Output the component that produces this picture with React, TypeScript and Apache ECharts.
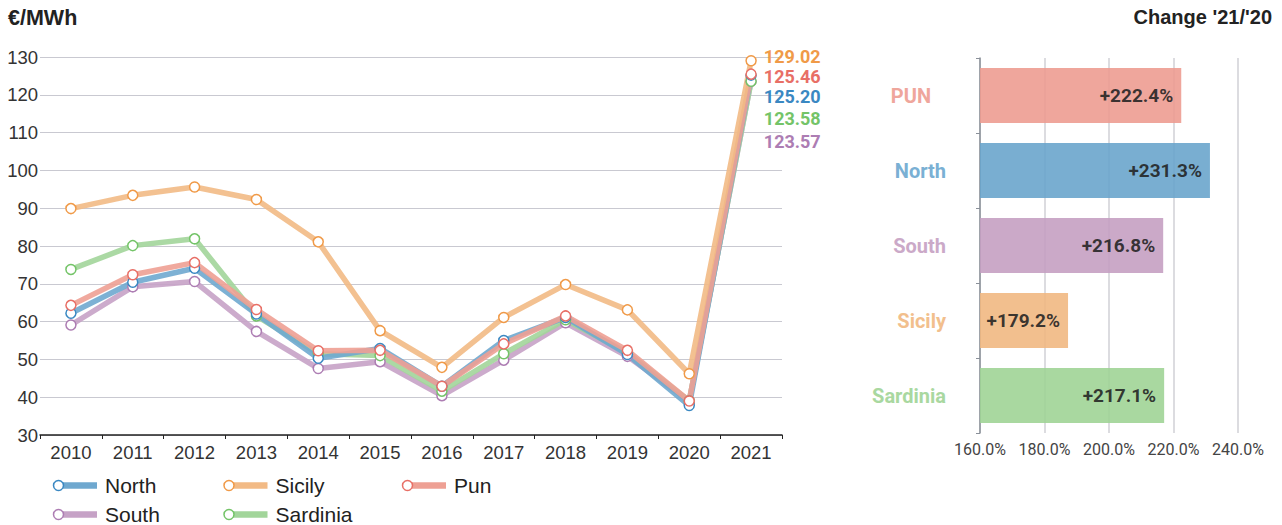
import React, { useEffect, useRef } from 'react';
import * as echarts from 'echarts';

const years = ['2010', '2011', '2012', '2013', '2014', '2015', '2016', '2017', '2018', '2019', '2020', '2021'];
const north = [62.2, 70.4, 74.1, 62.0, 50.3, 52.9, 42.9, 55.0, 61.1, 51.3, 37.8, 125.2];
const sicily = [89.9, 93.4, 95.6, 92.3, 81.1, 57.6, 47.9, 61.1, 69.8, 63.1, 46.2, 129.02];
const pun = [64.3, 72.4, 75.6, 63.2, 52.3, 52.4, 42.9, 54.1, 61.5, 52.4, 39.0, 125.46];
const south = [59.1, 69.2, 70.6, 57.4, 47.6, 49.4, 40.4, 49.8, 59.7, 50.8, 39.0, 123.57];
const sardinia = [73.8, 80.1, 81.9, 61.5, 51.5, 51.0, 41.6, 51.5, 60.5, 51.8, 39.0, 123.58];

const yTicks = { min: 30, max: 130, interval: 10 };

const changeCats = ['PUN', 'North', 'South', 'Sicily', 'Sardinia'];
// bar lengths as drawn in the picture, and the labels printed on them
const changeBars = [222.4, 231.3, 216.8, 187.3, 217.1];
const changeLabels = ['+222.4%', '+231.3%', '+216.8%', '+179.2%', '+217.1%'];
const changeTicks = { min: 160, max: 240, interval: 20 };

const COL = {
  North: { line: '#6fa8cf', mark: '#3a88c2', bar: '#66a3cb', text: '#7ab0d4' },
  Sicily: { line: '#f2ba85', mark: '#f09a48', bar: '#f0b67e', text: '#f2bf8d' },
  Pun: { line: '#eea094', mark: '#e86f66', bar: '#ed9a8e', text: '#efa69c' },
  South: { line: '#c6a2c6', mark: '#ad7db3', bar: '#c49dc0', text: '#cba9c8' },
  Sardinia: { line: '#a2d59a', mark: '#74c468', bar: '#9dd393', text: '#a9d8a0' },
};

const catColorKey = ['Pun', 'North', 'South', 'Sicily', 'Sardinia'];

export default function App() {
  const ref = useRef<HTMLDivElement>(null);
  useEffect(() => {
    if (!ref.current) return;
    const chart = echarts.init(ref.current, null, { renderer: 'svg' });

    const defs = [
      { name: 'South', data: south, dy: 60 },
      { name: 'Sardinia', data: sardinia, dy: 37 },
      { name: 'North', data: north, dy: 21 },
      { name: 'Pun', data: pun, dy: 2 },
      { name: 'Sicily', data: sicily, dy: -4 },
    ];
    const last = years.length - 1;
    const lineSeries = defs.map((d) => {
      const c = (COL as any)[d.name];
      return {
        type: 'line',
        name: d.name,
        data: d.data,
        xAxisIndex: 0,
        yAxisIndex: 0,
        symbol: 'circle',
        symbolSize: 10,
        showAllSymbol: true,
        lineStyle: { color: c.line, width: 5.5, opacity: 0.9 },
        itemStyle: { color: '#fff', borderColor: c.mark, borderWidth: 1.5 },
        label: {
          show: true,
          position: 'right',
          distance: 7,
          offset: [0, d.dy],
          formatter: (p: any) => (p.dataIndex === last ? Number(p.value).toFixed(2) : ''),
          color: c.mark,
          fontWeight: 'bold',
          fontSize: 18,
          lineHeight: 17,
          fontFamily: 'Roboto',
        },
        emphasis: { disabled: true },
      };
    });

    const legendItems = [
      { name: 'North', x: 53, row: 0 },
      { name: 'Sicily', x: 223.5, row: 0 },
      { name: 'Pun', x: 402, row: 0 },
      { name: 'South', x: 53, row: 1 },
      { name: 'Sardinia', x: 223.5, row: 1 },
    ];
    const legendGraphics: any[] = [];
    legendItems.forEach((it) => {
      const c = (COL as any)[it.name];
      const y = it.row === 0 ? 485.5 : 514.5;
      legendGraphics.push({
        type: 'line',
        shape: { x1: it.x + 6, y1: y, x2: it.x + 44, y2: y },
        style: { stroke: c.line, lineWidth: 6.5 },
      });
      legendGraphics.push({
        type: 'circle',
        shape: { cx: it.x + 5.5, cy: y, r: 5 },
        style: { fill: '#fff', stroke: c.mark, lineWidth: 1.5 },
      });
      legendGraphics.push({
        type: 'text',
        x: it.x + 52,
        y: y,
        style: {
          text: it.name,
          fill: '#222',
          fontSize: 21,
          lineHeight: 20,
          fontFamily: 'Liberation Sans',
          verticalAlign: 'middle',
          align: 'left',
        },
      });
    });

    const rich: any = {};
    catColorKey.forEach((k, i) => {
      rich['c' + i] = {
        color: (COL as any)[k].text,
        fontWeight: 'bold',
        fontSize: 20,
        fontFamily: 'Roboto',
        padding: i === 0 ? [0, 15, 0, 0] : [0, 0, 0, 0],
      };
    });

    chart.setOption({
      animation: false,
      title: [
        {
          text: '€/MWh',
          left: 3,
          top: 2,
          textStyle: { fontSize: 21.5, fontWeight: 'bold', color: '#222', fontFamily: 'Liberation Sans' },
        },
        {
          text: "Change '21/'20",
          right: 5,
          top: 2,
          textStyle: { fontSize: 20, fontWeight: 'bold', color: '#222', fontFamily: 'Liberation Sans' },
        },
      ],
      grid: [
        { left: 40, right: 500, top: 57, bottom: 90 },
        { left: 980, right: 44, top: 58, bottom: 92 },
      ],
      xAxis: [
        {
          type: 'category',
          gridIndex: 0,
          data: years,
          boundaryGap: true,
          axisLine: { lineStyle: { color: '#222', width: 1.5 } },
          axisTick: { show: true, length: 4, lineStyle: { color: '#222' } },
          axisLabel: { fontSize: 18.5, color: '#333', margin: 8, fontFamily: 'Liberation Sans' },
          splitLine: { show: false },
        },
        {
          type: 'value',
          gridIndex: 1,
          min: changeTicks.min,
          max: changeTicks.max,
          interval: changeTicks.interval,
          axisLine: { show: false },
          axisTick: { show: false },
          axisLabel: {
            formatter: (v: number) => v.toFixed(1) + '%',
            fontSize: 16,
            color: '#444',
            margin: 8,
            fontFamily: 'Roboto',
          },
          splitLine: { show: true, lineStyle: { color: '#d0d0d6', width: 1.5 } },
        },
      ],
      yAxis: [
        {
          type: 'value',
          gridIndex: 0,
          min: yTicks.min,
          max: yTicks.max,
          interval: yTicks.interval,
          axisLine: { show: false },
          axisTick: { show: false },
          axisLabel: {
            fontSize: 18.5,
            color: '#333',
            margin: 2,
            padding: [0, 0, 6, 0],
            fontFamily: 'Liberation Sans',
          },
          splitLine: { lineStyle: { color: '#c9c9d1', width: 1 } },
        },
        {
          type: 'category',
          gridIndex: 1,
          inverse: true,
          data: changeCats,
          axisLine: { show: true, lineStyle: { color: '#8a9099', width: 1.5 } },
          axisTick: { show: true, length: 4, lineStyle: { color: '#8a9099' } },
          axisLabel: {
            margin: 34,
            formatter: (v: string, i: number) => `{c${i}|${v}}`,
            rich,
          },
        },
      ],
      series: [
        ...lineSeries,
        {
          type: 'bar',
          name: 'Change',
          xAxisIndex: 1,
          yAxisIndex: 1,
          barWidth: 55,
          data: changeBars.map((v, i) => ({
            value: v,
            itemStyle: { color: (COL as any)[catColorKey[i]].bar, opacity: 0.88 },
          })),
          label: {
            show: true,
            position: 'insideRight',
            distance: 8,
            formatter: (p: any) => changeLabels[p.dataIndex],
            fontWeight: 'bold',
            fontSize: 19,
            color: '#222',
            fontFamily: 'Roboto',
          },
          emphasis: { disabled: true },
        },
      ],
      graphic: legendGraphics,
    });

    return () => chart.dispose();
  }, []);

  return <div ref={ref} style={{ position: 'absolute', left: 0, top: 0, width: 1282, height: 525 }} />;
}
